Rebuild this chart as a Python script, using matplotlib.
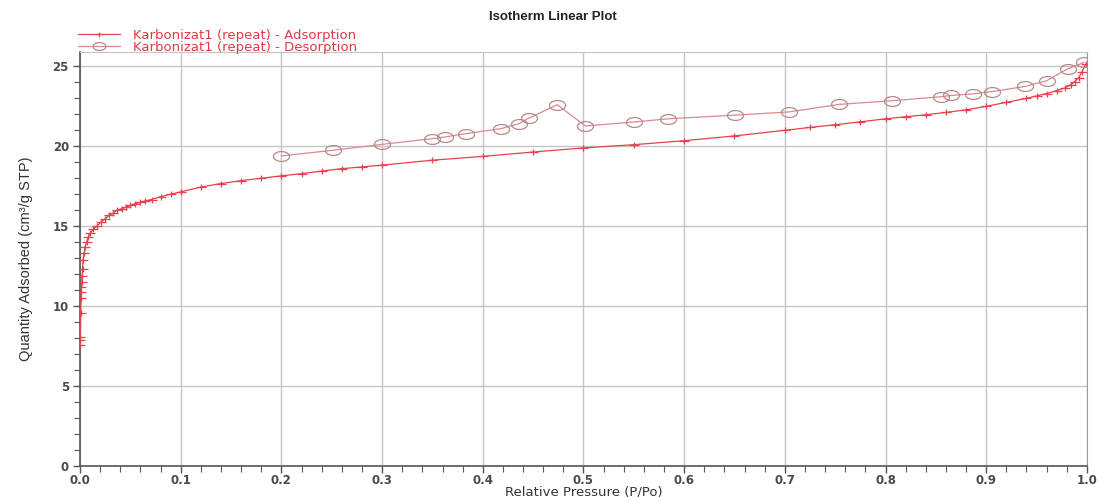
import matplotlib
matplotlib.use("Agg")
import matplotlib.pyplot as plt
import numpy as np
from matplotlib.path import Path
from matplotlib.ticker import MultipleLocator, FormatStrFormatter

plt.rcParams["font.family"] = ["DejaVu Sans"]

# Adsorption branch: relative pressure P/Po and quantity adsorbed (cm3/g STP)
ads_p = [0.0002, 0.0003, 0.0004, 0.0007, 0.0010, 0.0012, 0.0014, 0.0017,
         0.0020, 0.0025, 0.0030, 0.0040, 0.0050, 0.0065, 0.0080, 0.0100,
         0.0130, 0.0166, 0.0210, 0.0250, 0.0290, 0.0330, 0.0370, 0.0415,
         0.0460, 0.0500, 0.0550, 0.0600, 0.0650, 0.0710, 0.0800, 0.0900,
         0.1000, 0.1200, 0.1400, 0.1600, 0.1800, 0.2000, 0.2200, 0.2400,
         0.2600, 0.2800, 0.3000, 0.3500, 0.4000, 0.4500, 0.5000, 0.5500,
         0.6000, 0.6500, 0.7000, 0.7250, 0.7500, 0.7750, 0.8000, 0.8200,
         0.8400, 0.8600, 0.8800, 0.9000, 0.9200, 0.9400, 0.9500, 0.9600,
         0.9700, 0.9780, 0.9840, 0.9880, 0.9920, 0.9950, 0.9990]
ads_q = [7.6, 7.9, 8.1, 9.6, 10.5, 10.9, 11.2, 11.5,
         11.9, 12.3, 12.9, 13.3, 13.7, 14.0, 14.3, 14.55,
         14.8, 15.0, 15.27, 15.48, 15.69, 15.83, 16.0, 16.1,
         16.2, 16.3, 16.42, 16.5, 16.58, 16.67, 16.85, 17.0,
         17.15, 17.45, 17.67, 17.85, 18.0, 18.15, 18.29, 18.45,
         18.6, 18.71, 18.82, 19.13, 19.37, 19.64, 19.9, 20.1,
         20.35, 20.65, 21.0, 21.18, 21.35, 21.53, 21.72, 21.85,
         21.97, 22.12, 22.28, 22.5, 22.75, 23.0, 23.15, 23.3,
         23.48, 23.65, 23.85, 24.05, 24.3, 24.65, 25.15]

# Desorption branch
des_p = [0.200, 0.251, 0.300, 0.350, 0.362, 0.383, 0.418, 0.436, 0.446,
         0.474, 0.502, 0.550, 0.584, 0.651, 0.704, 0.754, 0.806, 0.855,
         0.865, 0.887, 0.906, 0.939, 0.960, 0.981, 0.997]
des_q = [19.4, 19.75, 20.12, 20.48, 20.58, 20.79, 21.1, 21.42, 21.77,
         22.6, 21.27, 21.52, 21.72, 21.95, 22.15, 22.62, 22.85, 23.1,
         23.18, 23.28, 23.42, 23.75, 24.1, 24.85, 25.25]

ADS_COLOR = "#e8404c"
DES_LINE = "#d98a8e"
DES_EDGE = "#b58a8a"
TEXT_COLOR = "#e03a48"

# wide "+" and flat ellipse markers
plus_path = Path([(-1, 0), (1, 0), (0, -0.6), (0, 0.6)],
                 [Path.MOVETO, Path.LINETO, Path.MOVETO, Path.LINETO])
t = np.linspace(0, 2 * np.pi, 40)
ellipse_path = Path(np.column_stack([np.cos(t), 0.62 * np.sin(t)]), closed=True)

fig = plt.figure(figsize=(11.04, 4.97), dpi=100)
ax = fig.add_axes([0.0725, 0.0624, 0.912, 0.833])

ax.plot(ads_p, ads_q, color=ADS_COLOR, lw=0.9, marker=plus_path,
        markersize=7.5, markeredgewidth=0.9, markeredgecolor=ADS_COLOR,
        label="Karbonizat1 (repeat) - Adsorption", zorder=3)
ax.plot(des_p, des_q, color=DES_LINE, lw=0.9, marker=ellipse_path,
        markersize=11.5, markeredgewidth=0.9, markeredgecolor=DES_EDGE,
        markerfacecolor="none",
        label="Karbonizat1 (repeat) - Desorption", zorder=3)

ax.set_xlim(0, 1.0)
ax.set_ylim(0, 25.9)
ax.xaxis.set_major_locator(MultipleLocator(0.1))
ax.xaxis.set_minor_locator(MultipleLocator(0.02))
ax.yaxis.set_major_locator(MultipleLocator(5))
ax.yaxis.set_minor_locator(MultipleLocator(1))
ax.xaxis.set_major_formatter(FormatStrFormatter("%.1f"))
ax.yaxis.set_major_formatter(FormatStrFormatter("%d"))

ax.grid(True, which="major", color="#c4c4c4", lw=1.0)
ax.set_axisbelow(True)
ax.tick_params(which="both", direction="out", colors="#555555",
               labelcolor="#4a4a4a", labelsize=8.5)
ax.tick_params(which="major", length=5, width=1)
ax.tick_params(which="minor", length=4, width=0.8)
ax.tick_params(axis="x", pad=1.0)
ax.tick_params(axis="y", pad=3)
for lab in ax.get_xticklabels() + ax.get_yticklabels():
    lab.set_fontweight("bold")

for side in ["left", "bottom"]:
    ax.spines[side].set_color("#555555")
    ax.spines[side].set_linewidth(1.2)
ax.spines["top"].set_color("#c4c4c4")
ax.spines["right"].set_color("#9a9a9a")

ax.set_xlabel("Relative Pressure (P/Po)", fontsize=9.5, color="#333333")
ax.xaxis.set_label_coords(0.5, -0.047)
ax.set_ylabel("Quantity Adsorbed (cm³/g STP)", fontsize=10.5, color="#333333",
              family=["Liberation Sans Narrow", "Liberation Sans", "DejaVu Sans"],
              labelpad=14)

fig.text(0.501, 0.965, "Isotherm Linear Plot", ha="center", va="center",
         fontsize=9.5, fontweight="bold", color="#222222",
         family=["Liberation Sans", "DejaVu Sans"])

leg = ax.legend(loc="lower left", bbox_to_anchor=(-0.002, 0.995),
                frameon=False, prop={"size": 9.5}, handlelength=3.2,
                handletextpad=1.0, labelspacing=-0.05, borderaxespad=0,
                borderpad=0, markerscale=0.8)
for txt in leg.get_texts():
    txt.set_color(TEXT_COLOR)

fig.savefig("out.png", dpi=100)
